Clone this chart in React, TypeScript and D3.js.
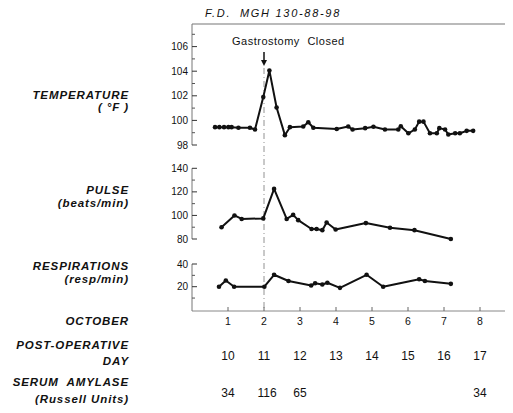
import React from "react";
import * as d3 from "d3";

// days in October (fractional)
const tempDays = [0.64, 0.76, 0.89, 1.01, 1.1, 1.29, 1.61, 1.75, 1.98, 2.15, 2.35, 2.58, 2.72, 3.09, 3.23, 3.37, 4.02, 4.34, 4.46, 4.81, 5.04, 5.36, 5.73, 5.8, 6.01, 6.19, 6.31, 6.43, 6.61, 6.8, 6.87, 7.03, 7.12, 7.31, 7.44, 7.63, 7.81];
const tempValues = [99.45, 99.45, 99.45, 99.45, 99.45, 99.4, 99.4, 99.26, 101.9, 104.05, 101.05, 98.8, 99.45, 99.5, 99.85, 99.4, 99.3, 99.5, 99.26, 99.37, 99.48, 99.26, 99.26, 99.53, 98.95, 99.26, 99.9, 99.9, 98.95, 98.95, 99.37, 99.26, 98.85, 98.95, 98.95, 99.15, 99.15];

const pulseDays = [0.82, 1.18, 1.38, 1.98, 2.28, 2.63, 2.81, 2.95, 3.32, 3.46, 3.62, 3.74, 3.99, 4.83, 5.5, 6.18, 7.19];
const pulseValues = [90, 100, 97, 97.5, 122.5, 97, 100.5, 96, 88.5, 88.5, 87.5, 94, 88, 93.5, 89.5, 87.5, 80];

const respDays = [0.75, 0.94, 1.17, 2.01, 2.28, 2.68, 3.31, 3.42, 3.62, 3.76, 4.11, 4.85, 5.31, 6.31, 6.47, 7.19];
const respValues = [20, 25.5, 20, 20, 30.5, 25, 21, 23, 22, 23.5, 19, 30.5, 20, 26.5, 25, 22.5];

const octoberDays = ["1", "2", "3", "4", "5", "6", "7", "8"];
const postOpDays = ["10", "11", "12", "13", "14", "15", "16", "17"];
const amylaseDays = [1, 2, 3, 8];
const amylaseValues = ["34", "116", "65", "34"];

const tempTicks = [98, 100, 102, 104, 106];
const tempMinor = [99, 101, 103, 105, 107];
const pulseTicks = [80, 100, 120, 140];
const pulseMinor = [90, 110, 130];
const respTicks = [20, 40];
const respMinor = [10, 30];

const sans = "'Liberation Sans', Arial, sans-serif";

const App = () => {
  const width = 513;
  const height = 413;
  const left = 192;
  const right = 505;
  const bottom = 311;
  const top = 24;

  const x = d3.scaleLinear().domain([1, 8]).range([228, 480]);
  const yTemp = d3.scaleLinear().domain([98, 107]).range([145, 34.3]);
  const yPulse = d3.scaleLinear().domain([80, 140]).range([239, 168.3]);
  const yResp = d3.scaleLinear().domain([20, 40]).range([286.7, 264]);

  const series = [
    { days: tempDays, values: tempValues, y: yTemp },
    { days: pulseDays, values: pulseValues, y: yPulse },
    { days: respDays, values: respValues, y: yResp },
  ];

  const axes = [
    { y: yTemp, ticks: tempTicks, minor: tempMinor, y0: top, y1: yTemp(98) },
    { y: yPulse, ticks: pulseTicks, minor: pulseMinor, y0: yPulse(140), y1: yPulse(80) },
    { y: yResp, ticks: respTicks, minor: respMinor, y0: yResp(40), y1: bottom },
  ];

  const leftLabels = [
    { text: "TEMPERATURE", y: 99 },
    { text: "( °F )", y: 111 },
    { text: "PULSE", y: 194 },
    { text: "(beats/min)", y: 207 },
    { text: "RESPIRATIONS", y: 270 },
    { text: "(resp/min)", y: 283 },
    { text: "OCTOBER", y: 325 },
    { text: "POST-OPERATIVE", y: 349 },
    { text: "DAY", y: 365 },
    { text: "SERUM  AMYLASE", y: 386 },
    { text: "(Russell Units)", y: 403 },
  ];

  const titleStyle = { letterSpacing: "1.7px", whiteSpace: "pre" as const };

  return (
    <svg width={width} height={height} style={{ position: "absolute", left: 0, top: 0, background: "#fff" }}>
      <text x={205} y={17} fontFamily={sans} fontStyle="italic" fontSize={11} fill="#111" style={titleStyle}>
        F.D.
      </text>
      <text x={240} y={17} fontFamily={sans} fontStyle="italic" fontSize={11} fill="#111" style={titleStyle}>
        MGH 130-88-98
      </text>
      <line x1={left} x2={right} y1={top} y2={top} stroke="#777" strokeWidth={1.2} />
      <line x1={left} x2={right} y1={bottom} y2={bottom} stroke="#888" strokeWidth={1} />
      {octoberDays.map((d, i) => (
        <line key={"bt" + i} x1={x(i + 1)} x2={x(i + 1)} y1={bottom} y2={bottom - 4} stroke="#666" />
      ))}

      {axes.map((a, k) => (
        <g key={"ax" + k}>
          <line x1={left} x2={left} y1={a.y0} y2={a.y1} stroke="#777" strokeWidth={1} />
          {a.ticks.map((t) => (
            <g key={t}>
              <line x1={left} x2={left + 5} y1={a.y(t)} y2={a.y(t)} stroke="#333" strokeWidth={1} />
              <text x={left - 4} y={a.y(t) + 3.5} textAnchor="end" fontFamily={sans} fontSize={10} fill="#111">
                {t}
              </text>
            </g>
          ))}
          {a.minor.map((t) => (
            <line key={"m" + t} x1={left} x2={left + 3} y1={a.y(t)} y2={a.y(t)} stroke="#555" strokeWidth={1} />
          ))}
        </g>
      ))}

      <line x1={x(2)} x2={x(2)} y1={68} y2={bottom} stroke="#777" strokeWidth={0.8} strokeDasharray="6 3 1 3" />
      <line x1={x(2)} x2={x(2)} y1={52} y2={62} stroke="#111" strokeWidth={1.5} />
      <path d={`M${x(2) - 3},${60} L${x(2) + 3},${60} L${x(2)},${66} Z`} fill="#111" />
      <text x={232} y={45} fontFamily={sans} fontSize={11} fill="#111" style={{ letterSpacing: "0.5px", wordSpacing: "4px" }}>
        Gastrostomy Closed
      </text>

      {series.map((s, k) => {
        const pts: [number, number][] = s.days.map((d, i) => [x(d), s.y(s.values[i])]);
        const line = d3.line();
        return (
          <g key={"s" + k}>
            <path d={line(pts) || ""} fill="none" stroke="#111" strokeWidth={2} strokeLinejoin="round" />
            {pts.map((p, i) => (
              <circle key={i} cx={p[0]} cy={p[1]} r={2.3} fill="#111" />
            ))}
          </g>
        );
      })}

      {leftLabels.map((l, i) => (
        <text key={"l" + i} x={129} y={l.y} textAnchor="end" fontFamily={sans} fontStyle="italic" fontWeight="bold" fontSize={11.5} fill="#111" style={{ letterSpacing: "0.9px", whiteSpace: "pre" }}>
          {l.text}
        </text>
      ))}

      {octoberDays.map((d, i) => (
        <text key={"o" + i} x={x(i + 1)} y={325} textAnchor="middle" fontFamily={sans} fontSize={10.5} fill="#111">
          {d}
        </text>
      ))}
      {postOpDays.map((d, i) => (
        <text key={"p" + i} x={x(i + 1)} y={360} textAnchor="middle" fontFamily={sans} fontSize={12} fill="#111">
          {d}
        </text>
      ))}
      {amylaseValues.map((v, i) => (
        <text key={"a" + i} x={x(amylaseDays[i]) + (i === 1 ? 3 : 0)} y={397} textAnchor="middle" fontFamily={sans} fontSize={12} fill="#111">
          {v}
        </text>
      ))}
    </svg>
  );
};

export default App;
